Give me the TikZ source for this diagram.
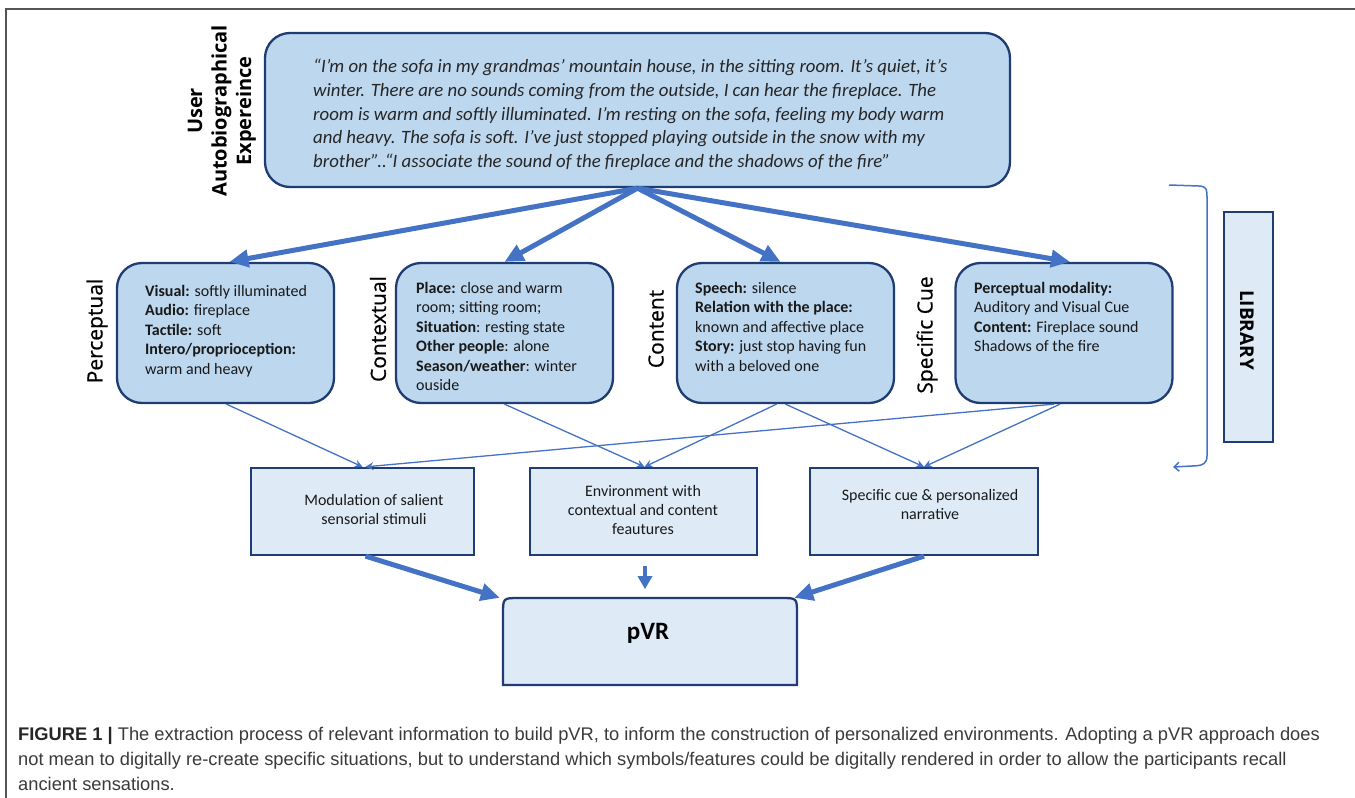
\documentclass[tikz,border=0pt]{standalone}
\usepackage{fontspec}
\setmainfont{Carlito}
\newfontfamily\labf{Open Sans}
\newfontfamily\labm[FakeBold=0.6]{Open Sans}
\newfontfamily\capf{Liberation Sans}
\usetikzlibrary{arrows.meta,calc}
\definecolor{navy}{HTML}{1F3C73}
\definecolor{fillA}{HTML}{BDD7EE}
\definecolor{fillB}{HTML}{DEEBF7}
\definecolor{arr}{HTML}{4472C4}
\definecolor{frameg}{HTML}{555555}
\definecolor{capg}{HTML}{3A3A3A}
\begin{document}
\begin{tikzpicture}[x=1pt,y=-1pt,
  rbox/.style={draw=navy, line width=2.3pt, fill=fillA, rounded corners=25pt, inner sep=0pt},
  sbox/.style={draw=navy, line width=2.3pt, fill=fillB, inner sep=0pt},
  bigarrow/.style={draw=arr, line width=5pt, -{Triangle[length=19pt,width=17pt]}},
  midarrow/.style={draw=arr, line width=4pt, -{Triangle[length=13pt,width=14pt]}},
  thinarrow/.style={draw=arr, line width=1.3pt, -{Stealth[length=8pt,width=8pt,inset=3pt]}},
  sidelabel/.style={font=\labm\fontsize{21}{25}\selectfont, rotate=90, inner sep=0pt},
  boxtext/.style={font=\fontsize{16}{19.4}\selectfont, align=left, anchor=north west, inner sep=0pt, text=black!90},
  bottext/.style={font=\fontsize{16}{19.3}\selectfont, align=center, inner sep=0pt, text=black!90},
  captext/.style={font=\capf\fontsize{18.3}{25}\selectfont, anchor=base west, inner sep=0pt, text=capg}
]
\useasboundingbox (0,0) rectangle (1355,798);
% frame
\draw[frameg, line width=1.5pt] (6,798) -- (6,9) -- (1355,9);

% top box
\node[rbox, minimum width=745pt, minimum height=154pt] (top) at (637.5,110) {};
\node[font=\itshape\fontsize{18.8}{23.7}\selectfont, align=left, anchor=north west, inner sep=0pt, text=black!85] (toptext) at (313,59)
{“I’m on the sofa in my grandmas’ mountain house, in the sitting room. It’s quiet, it’s\\
winter. There are no sounds coming from the outside, I can hear the fireplace. The\\
room is warm and softly illuminated. I’m resting on the sofa, feeling my body warm\\
and heavy. The sofa is soft. I’ve just stopped playing outside in the snow with my\\
brother”..“I associate the sound of the fireplace and the shadows of the fire”};
\node[font=\labf\bfseries\fontsize{20}{24.5}\selectfont, align=center, rotate=90, inner sep=0pt] (user) at (222,111)
{User\\Autobiographical\\Expereince};

% middle boxes
\node[rbox, minimum width=217pt, minimum height=140pt] (p1) at (225.5,333) {};
\node[rbox, minimum width=217pt, minimum height=140pt] (p2) at (504.5,333) {};
\node[rbox, minimum width=217pt, minimum height=140pt] (p3) at (785.5,333) {};
\node[rbox, minimum width=217pt, minimum height=140pt] (p4) at (1064,333) {};

\node[boxtext] (p1t) at (145,285) {\textbf{Visual:} softly illuminated\\\textbf{Audio:} fireplace\\\textbf{Tactile:} soft\\\textbf{Intero/proprioception:}\\warm  and heavy};
\node[boxtext] (p2t) at (416,282) {\textbf{Place:} close and warm\\room;  sitting room;\\\textbf{Situation}: resting state\\\textbf{Other people}: alone\\\textbf{Season/weather}: winter\\ouside};
\node[boxtext] (p3t) at (695,282) {\textbf{Speech:} silence\\\textbf{Relation with the place:}\\known  and affective place\\\textbf{Story:} just stop having fun\\with a beloved one};
\node[boxtext] (p4t) at (974,282) {\textbf{Perceptual modality:}\\Auditory  and Visual Cue\\\textbf{Content:} Fireplace sound\\Shadows of the  fire};

\node[sidelabel] (l1) at (97,331) {Perceptual};
\node[sidelabel] (l2) at (378,329) {Contextual};
\node[sidelabel] (l3) at (656,329) {Content};
\node[sidelabel] (l4) at (927,335) {Specific Cue};

% bottom boxes
\node[sbox, minimum width=223pt, minimum height=87pt] (bA) at (362.5,511.5) {};
\node[sbox, minimum width=227pt, minimum height=87pt] (bB) at (643.5,511.5) {};
\node[sbox, minimum width=228pt, minimum height=87pt] (bC) at (924,511.5) {};
\node[bottext] (bAt) at (374,509.5) {Modulation  of salient\\sensorial stimuli};
\node[bottext] (bBt) at (643,510) {Environment  with\\contextual and content\\feautures};
\node[bottext] (bCt) at (930,504.5) {Specific cue \& personalized\\narrative};

% pVR
\path[sbox] (503,685) -- (503,614) .. controls (503,598) .. (519,598) -- (781,598) .. controls (797,598) .. (797,614) -- (797,685) -- cycle;
\node[minimum width=294pt, minimum height=87pt, inner sep=0pt] (pvr) at (650,641.5) {};
\node[font=\bfseries\fontsize{25}{28}\selectfont, inner sep=0pt] (pvrt) at ($(pvr.center)+(-2,-8)$) {pVR};

% library
\node[sbox, minimum width=49pt, minimum height=230pt] (lib) at (1248.5,327) {};
\node[font=\labf\bfseries\fontsize{19}{22}\selectfont, rotate=-90, inner sep=0pt] (libt) at (1247,330) {LIBRARY};

% bracket
\coordinate (brA) at (1169,185);
\coordinate (brB) at (1173,467);
\draw[arr, line width=1.5pt, -{Straight Barb[length=5pt,width=9pt]}] (brA) -- (1199,186) .. controls (1207,186.5) and (1207,190) .. (1207,197) -- (1207,456) .. controls (1207,463) and (1203,465.5) .. (1196,465.8) -- (brB);

% thick arrows from top
\coordinate (apex) at (top.south);
\draw[bigarrow] (apex) -- ($(p1.north)+(4,0)$);
\draw[bigarrow] (apex) -- (p2.north);
\draw[bigarrow] (apex) -- ($(p3.north)+(-5,0)$);
\draw[bigarrow] (apex) -- ($(p4.north)+(6,0)$);

% thin arrows
\draw[thinarrow] ($(p1.south)+(1,0)$) -- (bA.north);
\draw[thinarrow] (p2.south) -- ($(bB.north)+(1,0)$);
\draw[thinarrow] ($(p3.south)+(-9,0)$) -- ($(bB.north)+(1,0)$);
\draw[thinarrow] ($(p3.south)+(0,0)$) -- (bC.north);
\draw[thinarrow] ($(p4.south)+(-4,0)$) -- (bC.north);
\draw[thinarrow] ($(p4.south)+(-10,0)$) -- ($(bA.north)+(3,0)$);

% bottom arrows
\draw[bigarrow] ($(bA.south)+(3,0)$) -- ($(pvr.north west)+(-3,0)$);
\draw[bigarrow] ($(bC.south)+(0,0)$) -- ($(pvr.north east)+(-3,0)$);
\draw[midarrow, shorten <=10pt, shorten >=10pt] ($(bB.south)+(1.5,0)$) -- ($(bB.south)+(1.5,43)$);

% caption
\node[captext] (cap1) at (18,740) {{\color{black!85}\bfseries FIGURE 1 \textbar} The extraction process of relevant information to build pVR, to inform the construction of personalized environments. Adopting a pVR approach does};
\node[captext] (cap2) at (18,765) {not mean to digitally re-create specific situations, but to understand which symbols/features could be digitally rendered in order to allow the participants recall};
\node[captext] (cap3) at (18,790) {ancient sensations.};
\end{tikzpicture}
\end{document}
